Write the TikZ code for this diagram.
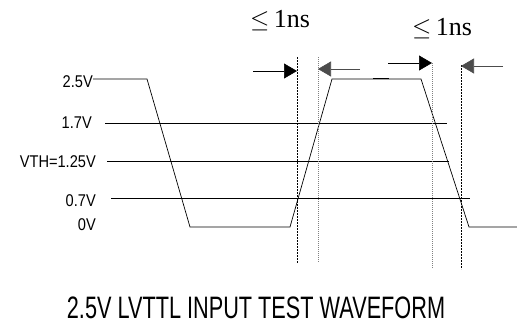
\documentclass[tikz,border=0pt]{standalone}
\usepackage{fontspec}
\setmainfont{Liberation Sans}
\newfontfamily\nsfont{Liberation Serif}
\newfontfamily\lblfont[FakeStretch=0.86]{Liberation Sans}
\newfontfamily\titlefont[FakeStretch=0.70]{Liberation Sans}
\usetikzlibrary{arrows.meta}

\tikzset{lvl/.style={draw, line width=0.6pt},
         lbl/.style={anchor=east, inner sep=0pt, font=\lblfont\fontsize{17}{17}\selectfont},
         wave/.style={draw, line width=0.7pt, line join=miter},
         guide/.style={draw, line width=0.6pt, dash pattern=on 2pt off 1pt},
         guidegray/.style={draw, gray, line width=0.8pt, dash pattern=on 1pt off 1pt},
         tarrow/.style={draw, line width=0.6pt, -{Triangle[length=13pt,width=15pt]}},
         nslbl/.style={inner sep=0pt, font=\nsfont\fontsize{26}{26}\selectfont}}

\begin{document}
\begin{tikzpicture}[x=1pt, y=-1pt]
\useasboundingbox (0,0) rectangle (517,324);
% level labels
\node[lbl] (v25) at (93,82) {2.5V};
\node[lbl] (v17) at (92,123) {1.7V};
\node[lbl] (vth) at (96,162) {VTH=1.25V};
\node[lbl] (v07) at (96,201) {0.7V};
\node[lbl] (v0) at (96,225) {0V};
% waveform corners
\coordinate (w1) at (147,79);
\coordinate (w2) at (190,227);
\coordinate (w3) at (290,227);
\coordinate (w4) at (332,79);
\coordinate (w5) at (421,79);
\coordinate (w6) at (469,227);
\coordinate (w7) at (517,227);
\draw[wave] (v25.east |- w1) -- (w1) -- (w2) -- (w3) -- (w4) -- (w5) -- (w6) -- (w7);
\draw[line width=1.6pt] (373,78.5) -- (389,78.5);
% threshold levels
\coordinate (e17) at (447,123);
\coordinate (eth) at (449,161);
\coordinate (e07) at (470,198);
\draw[lvl] (105,123) -- (e17);
\draw[lvl] (107,161) -- (eth);
\draw[lvl] (111,198) -- (e07);
% timing guides
\coordinate (g1) at (297,57);
\coordinate (g2) at (318,57);
\coordinate (g3) at (432,63);
\coordinate (g4) at (461,65);
\draw[guide] (g1) -- (297,263);
\draw[guidegray] (g2) -- (318,263);
\draw[guidegray] (g3) -- (432,269);
\draw[guide] (g4) -- (461,269);
\draw[tarrow] (253,71) -- (297,71);
\draw[tarrow, black!70] (360,69) -- (318,69);
\draw[tarrow] (388,63) -- (432,63);
\draw[tarrow, black!70] (503,66) -- (461,66);
\node[nslbl] (t1) at (280,21) {$\leq$\,1ns};
\node[nslbl] (t2) at (442,29) {$\leq$\,1ns};
% caption
\node[inner sep=0pt, anchor=base, font=\titlefont\fontsize{31}{31}\selectfont] (cap) at (256,318) {2.5V LVTTL INPUT TEST WAVEFORM};
\end{tikzpicture}
\end{document}
